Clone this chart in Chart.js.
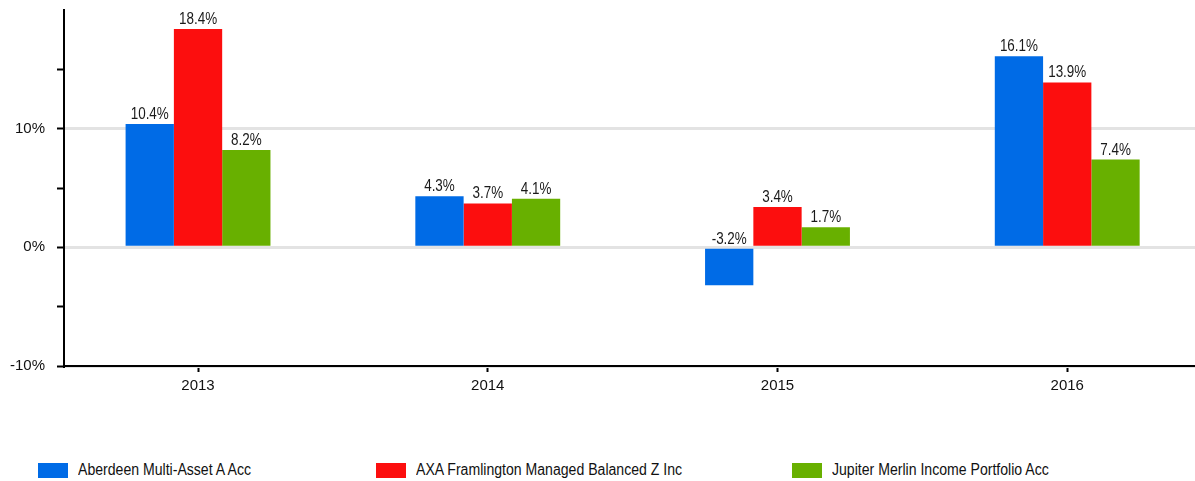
<!DOCTYPE html>
<html lang="en">
<head>
  <meta charset="UTF-8" />
  <title>Annual performance</title>
  <style>
    * { box-sizing: border-box; margin: 0; padding: 0; }
    body {
      width: 1195px;
      height: 481px;
      background: #fff;
      font-family: Arial, "Liberation Sans", sans-serif;
      position: relative;
      overflow: hidden;
    }
    .chart-box {
      position: absolute;
      left: 0;
      top: 0;
      width: 1195px;
      height: 400px;
    }
    .legend {
      position: absolute;
      top: 461px;
      left: 0;
      width: 1195px;
      height: 20px;
    }
    .legend-item {
      position: absolute;
      top: 0;
      display: flex;
      align-items: center;
      font-size: 16px;
      color: #111;
      white-space: nowrap;
    }
    .legend-item span.swatch {
      display: inline-block;
      width: 30px;
      height: 15px;
      margin-right: 10px;
    }
    .legend-item span.name {
      display: inline-block;
      transform: scaleX(0.88);
      transform-origin: left center;
    }
  </style>
</head>
<body>
  <div class="chart-box">
    <canvas id="perfChart"></canvas>
  </div>
  <div class="legend" id="legend"></div>

  <script src="https://cdn.jsdelivr.net/npm/chart.js"></script>
  <script>
    const years = ['2013', '2014', '2015', '2016'];
    const fundNames = [
      'Aberdeen Multi-Asset A Acc',
      'AXA Framlington Managed Balanced Z Inc',
      'Jupiter Merlin Income Portfolio Acc'
    ];
    const aberdeen = [10.4, 4.3, -3.2, 16.1];
    const axa = [18.4, 3.7, 3.4, 13.9];
    const jupiter = [8.2, 4.1, 1.7, 7.4];
    const yTicks = [-10, 0, 10];

    const colors = ['#006be6', '#fc0e0e', '#68b000'];
    const legendLeft = [38, 376, 792];
    const FONT = 'Arial, "Liberation Sans", sans-serif';

    const series = [aberdeen, axa, jupiter];
    const datasets = series.map((vals, i) => ({
      label: fundNames[i],
      data: vals.map((v, j) => ({ x: j, y: v })),
      backgroundColor: colors[i],
      borderWidth: 0,
      categoryPercentage: 0.5,
      barPercentage: 1.0
    }));

    // value labels sit above the top edge of each bar (slightly narrowed text)
    const valueLabels = {
      id: 'valueLabels',
      afterDatasetsDraw(chart) {
        const ctx = chart.ctx;
        const sx = 0.84;
        ctx.save();
        ctx.font = '16px ' + FONT;
        ctx.fillStyle = '#1a1a1a';
        ctx.textAlign = 'center';
        ctx.textBaseline = 'alphabetic';
        chart.data.datasets.forEach((ds, i) => {
          chart.getDatasetMeta(i).data.forEach((bar, j) => {
            const top = Math.min(bar.y, bar.base);
            ctx.save();
            ctx.translate(bar.x, top - 5);
            ctx.scale(sx, 1);
            ctx.fillText(ds.data[j].y.toFixed(1) + '%', 0, 0);
            ctx.restore();
          });
        });
        ctx.restore();
      }
    };

    new Chart(document.getElementById('perfChart'), {
      type: 'bar',
      data: { datasets },
      plugins: [valueLabels],
      options: {
        responsive: true,
        maintainAspectRatio: false,
        animation: false,
        layout: { padding: { top: 10, right: 0, left: 0, bottom: 0 } },
        plugins: {
          legend: { display: false },
          tooltip: { enabled: false }
        },
        scales: {
          x: {
            type: 'linear',
            offset: false,
            min: -0.4626,
            max: 3.441,
            afterFit(scale) { scale.height = 34; },
            ticks: {
              stepSize: 1,
              includeBounds: false,
              padding: 5,
              color: '#111',
              font: { size: 15, family: FONT },
              callback: v => years[v] ?? ''
            },
            grid: {
              offset: false,
              drawOnChartArea: false,
              tickLength: 6,
              tickColor: '#000',
              tickWidth: 2
            },
            border: { color: '#000', width: 2 }
          },
          y: {
            min: -10,
            max: 20,
            afterFit(scale) {
              scale.width = 64;
              scale.paddingTop = 0;
              scale.paddingBottom = 0;
            },
            ticks: {
              stepSize: 5,
              padding: 12,
              color: '#111',
              font: { size: 15, family: FONT },
              callback: v => yTicks.includes(v) ? v + '%' : ''
            },
            grid: {
              color: c => yTicks.includes(c.tick.value) ? '#e3e3e3' : 'rgba(0,0,0,0)',
              lineWidth: 3,
              tickColor: c => c.tick.value === 20 ? 'rgba(0,0,0,0)' : '#000',
              tickWidth: 2,
              tickLength: 7
            },
            border: { color: '#000', width: 2 }
          }
        }
      }
    });

    // legend row under the chart
    const legend = document.getElementById('legend');
    fundNames.forEach((name, i) => {
      const item = document.createElement('div');
      item.className = 'legend-item';
      item.style.left = legendLeft[i] + 'px';
      const sw = document.createElement('span');
      sw.className = 'swatch';
      sw.style.background = colors[i];
      const txt = document.createElement('span');
      txt.className = 'name';
      txt.textContent = name;
      item.appendChild(sw);
      item.appendChild(txt);
      legend.appendChild(item);
    });
  </script>
</body>
</html>
